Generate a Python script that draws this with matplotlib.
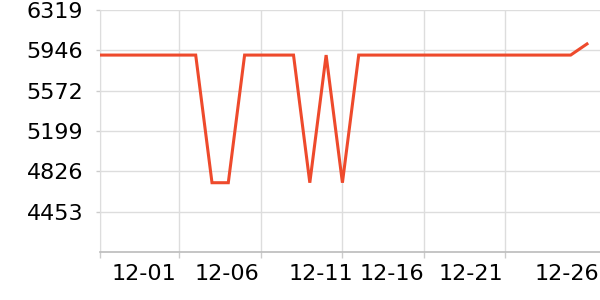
import matplotlib
matplotlib.use("Agg")
import matplotlib.pyplot as plt
import numpy as np

# Daily values from 11-26 (index 0) to 12-26 (index 30)
dates = ["11-26", "11-27", "11-28", "11-29", "11-30", "12-01", "12-02", "12-03",
         "12-04", "12-05", "12-06", "12-07", "12-08", "12-09", "12-10", "12-11",
         "12-12", "12-13", "12-14", "12-15", "12-16", "12-17", "12-18", "12-19",
         "12-20", "12-21", "12-22", "12-23", "12-24", "12-25", "12-26"]
values = [5902, 5902, 5902, 5902, 5902, 5902, 5902, 4721,
          4721, 5902, 5902, 5902, 5902, 4721, 5902, 4721,
          5902, 5902, 5902, 5902, 5902, 5902, 5902, 5902,
          5902, 5902, 5902, 5902, 5902, 5902, 6005]
y_ticks = [4453, 4826, 5199, 5572, 5946, 6319]
x_tick_labels = ["12-01", "12-06", "12-11", "12-16", "12-21", "12-26"]
grid_dates = ["12-01", "12-06", "12-11", "12-16", "12-21"]

fig = plt.figure(figsize=(6, 3), dpi=100)
ax = fig.add_axes([100/600, 1-252/300, 500/600, (252-10)/300])

x = np.arange(len(values))
ax.plot(x, values, color="#ee4a2c", lw=2.2, solid_joinstyle="miter", zorder=3)

ax.set_ylim(4080, 6319)
ax.set_xlim(0.13, 30.8)

ax.set_yticks(y_ticks)
ax.set_yticklabels([str(v) for v in y_ticks])

gx = [dates.index(d) for d in grid_dates]
ax.set_xticks([0.13] + gx)
ax.set_xticklabels([""] * (len(gx) + 1))
label_pos = [2.83, 7.89, 13.66, 18.04, 22.89, 28.75]
ax.set_xticks(label_pos, minor=True)
ax.set_xticklabels(x_tick_labels, minor=True)
ax.tick_params(axis="x", which="minor", length=0, pad=9, labelsize=16)
ax.tick_params(axis="x", which="major", length=4, color="#cccccc", width=1)
ax.tick_params(axis="y", length=3, color="#cccccc", width=1, pad=9, labelsize=16)

ax.grid(True, which="major", color="#dddddd", lw=1, zorder=0)
for s in ["top", "right"]:
    ax.spines[s].set_visible(False)
ax.spines["left"].set_color("#dddddd")
ax.spines["bottom"].set_color("#bbbbbb")
ax.spines["bottom"].set_linewidth(1.2)

fig.savefig("out.png", dpi=100)
